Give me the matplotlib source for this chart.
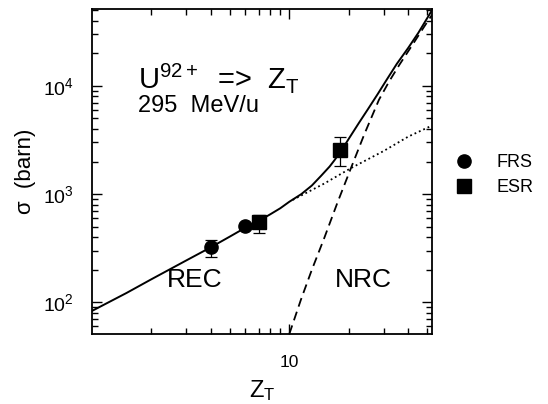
import numpy as np
import matplotlib
matplotlib.use("Agg")
import matplotlib.pyplot as plt
from matplotlib.ticker import LogLocator, FixedLocator, NullFormatter, FixedFormatter

plt.rcParams['font.family'] = ['Liberation Sans', 'DejaVu Sans']
plt.rcParams['mathtext.fontset'] = 'custom'
plt.rcParams['mathtext.rm'] = 'Liberation Sans'
plt.rcParams['mathtext.it'] = 'Liberation Sans'
plt.rcParams['mathtext.default'] = 'regular'

frs_z = [4, 6]
frs_sigma = [322, 503]
frs_lo = [262, 503]
frs_hi = [380, 503]

esr_z = [7, 18]
esr_sigma = [548, 2565]
esr_lo = [437, 1800]
esr_hi = [646, 3335]

# --- theory curves ---
total_z = [1.0, 1.5, 2, 3, 4, 5, 6, 7, 8, 9, 10, 11.5, 13, 14.5, 16, 17, 18,
           19, 20, 22.5, 25, 28, 31, 35, 40, 45, 52.7]
total_sigma = [83, 122, 163, 243, 322, 405, 490, 565, 650, 740, 850, 1000, 1200,
               1480, 1800, 2080, 2420, 2800, 3250, 4550, 6100, 8400, 11300,
               16000, 22500, 31000, 50000]

rec_z = [10.4, 15, 20.5, 30, 40, 52.7]
rec_sigma = [884, 1250, 1738, 2500, 3400, 4300]

nrc_z = [10, 11.45, 13, 15, 17.5, 20.5, 24, 28.4, 32, 36, 42, 48, 52.7]
nrc_sigma = [51, 106, 200, 390, 830, 1738, 3600, 7430, 11000, 15600, 24000,
             35000, 45300]

fig = plt.figure(figsize=(5.48, 4.04), dpi=100)
ax = fig.add_axes([0.1673, 0.1733, 0.621, 0.8037])

ax.plot(total_z, total_sigma, '-', color='black', lw=1.4)
ax.plot(rec_z, rec_sigma, ':', color='black', lw=1.3)
ax.plot(nrc_z, nrc_sigma, '--', color='black', lw=1.3, dashes=(5, 3))

frs_err = [np.array(frs_sigma) - np.array(frs_lo), np.array(frs_hi) - np.array(frs_sigma)]
esr_err = [np.array(esr_sigma) - np.array(esr_lo), np.array(esr_hi) - np.array(esr_sigma)]
eb1 = ax.errorbar(frs_z, frs_sigma, yerr=frs_err, fmt='o', color='black', ms=9.5,
                  capsize=4.5, elinewidth=0.9, capthick=0.9, label='FRS')
eb2 = ax.errorbar(esr_z, esr_sigma, yerr=esr_err, fmt='s', color='black', ms=9.5,
                  capsize=4.5, elinewidth=0.9, capthick=0.9, label='ESR')

ax.set_xscale('log')
ax.set_yscale('log')
ax.set_xlim(1, 52.7)
ax.set_ylim(51, 5.1e4)

ax.xaxis.set_major_locator(FixedLocator([10]))
ax.xaxis.set_major_formatter(FixedFormatter(['10']))
ax.xaxis.set_minor_locator(LogLocator(base=10, subs=np.arange(2, 10)))
ax.xaxis.set_minor_formatter(NullFormatter())
ax.yaxis.set_major_locator(FixedLocator([1e2, 1e3, 1e4]))
ax.yaxis.set_major_formatter(FixedFormatter([r'$10^2$', r'$10^3$', r'$10^4$']))
ax.yaxis.set_minor_locator(LogLocator(base=10, subs=np.arange(2, 10)))
ax.yaxis.set_minor_formatter(NullFormatter())

ax.tick_params(which='both', direction='in', top=True, right=True, width=1.0)
ax.tick_params(which='major', length=7)
ax.tick_params(which='minor', length=4)
ax.tick_params(axis='x', which='major', pad=15, labelsize=12.5)
ax.tick_params(axis='y', which='major', pad=13, labelsize=14)
for s in ax.spines.values():
    s.set_linewidth(1.3)

ax.set_xlabel('Z$_T$', fontsize=17, labelpad=6)
ax.set_ylabel('σ  (barn)', fontsize=16, labelpad=5)

ax.text(0.136, 0.758, 'U$^{92+}$  =>  Z$_T$', transform=ax.transAxes,
        fontsize=21, ha='left', va='baseline')
ax.text(0.136, 0.684, '295  MeV/u', transform=ax.transAxes,
        fontsize=17, ha='left', va='baseline')
ax.text(0.303, 0.165, 'REC', transform=ax.transAxes, fontsize=19,
        ha='center', va='center')
ax.text(0.797, 0.165, 'NRC', transform=ax.transAxes, fontsize=19,
        ha='center', va='center')

ax.legend(handles=[eb1[0], eb2[0]], labels=['FRS', 'ESR'], loc='center left',
          bbox_to_anchor=(1.02, 0.49), frameon=False, handlelength=1.0,
          handletextpad=1.3, labelspacing=0.45, fontsize=13)

fig.savefig('out.png', dpi=100)
